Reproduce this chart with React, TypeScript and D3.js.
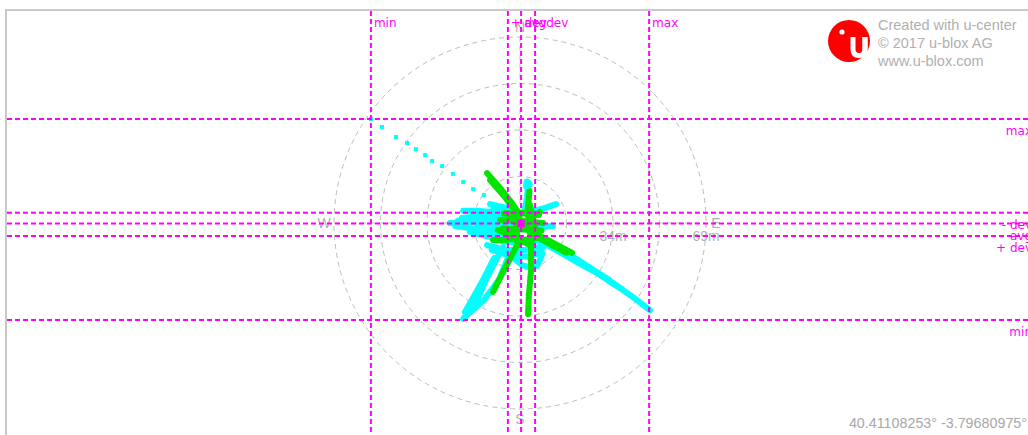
import React from "react";
import * as d3 from "d3";

type P = [number, number];

// ring radii in metres and their labels
const ringValues = [17.25, 34.5, 51.75, 69];
const ringLabels = ["", "34m", "", "69m"];
const cardinalLabels = ["N", "E", "S", "W"];
const cardinalAngles = [0, 90, 180, 270];

// statistic lines (east offset, metres)
const eastLineLabels = ["min", "+ dev", "avg", "- dev", "max"];
const eastLineValues = [-55.3, -4.5, 0.4, 5.6, 47.9];
// statistic lines (north offset, metres)
const northLineLabels = ["max", "- dev", "avg", "+ dev", "min"];
const northLineValues = [38.6, 3.8, -0.2, -4.8, -36.0];

const avgPoint: P = [0.4, -0.2];

// isolated cyan fixes (east, north in metres)
const cyanDots: P[] = [
  [-55.3, 38.6], [-51.2, 35.6], [-46.0, 31.9], [-41.9, 29.7], [-38.6, 27.4],
  [-35.2, 25.2], [-32.6, 23.0], [-28.9, 21.1], [-24.9, 18.2], [-21.1, 15.2],
  [-17.4, 12.6], [-13.4, 10.4],
];

// dense cyan tracks
const cyanTracks: P[][] = [
  [[1.5, -1.5], [14.8, -9.6], [29.7, -18.9], [40.8, -26.7], [48.2, -32.3]],
  [[5.6, -4.8], [20.4, -13.0], [34.1, -22.3], [37.8, -24.5]],
  [[8.0, -7.0], [22.0, -15.0], [33.0, -21.0]],
  [[-21.1, -35.6], [-15.9, -28.6], [-12.6, -21.1], [-8.9, -13.7], [-6.3, -8.9]],
  [[-20.4, -33.0], [-14.1, -21.9], [-9.6, -13.0]],
  [[-20.0, -34.5], [-13.4, -28.6], [-7.8, -21.1], [-4.8, -13.7], [-3.0, -10.0]],
  [[-26.0, 0.0], [-18.6, 0.4], [-9.3, -0.4], [-1.9, -0.4]],
  [[-24.1, -1.1], [-16.7, -2.2], [-9.3, -3.7], [-3.0, -3.3]],
  [[-23.0, 0.8], [-16.0, 1.5], [-8.0, 1.2], [-1.0, 1.0]],
  [[-21.5, 1.9], [-14.8, 2.6], [-7.4, 2.6], [-0.7, 3.0]],
  [[-18.6, -3.3], [-11.1, -5.2], [-5.6, -4.8]],
  [[-16.0, -1.5], [-10.0, -2.5], [-4.0, -2.0]],
  [[-21.1, 4.5], [-14.8, 4.5], [-10.4, 4.1]],
  [[-11.1, 7.0], [-4.8, 5.6], [0.0, 3.3]],
  [[-10.0, 5.0], [-4.0, 4.0], [0.0, 1.5]],
  [[3.0, 14.5], [2.6, 9.3], [1.5, 4.1]],
  [[3.7, 4.1], [9.3, 5.6], [13.4, 7.0]],
  [[1.1, -1.5], [7.4, -1.5], [12.2, -1.1]],
  [[-12.2, -8.2], [-5.6, -10.0], [1.9, -10.0], [9.3, -8.5]],
  [[-9.3, -6.3], [-1.9, -7.4], [5.6, -6.7]],
  [[-10.5, -10.0], [-4.0, -12.0], [3.0, -12.5], [8.0, -11.0]],
  [[-3.7, -11.9], [0.7, -15.6], [4.8, -16.7]],
  [[-1.9, -5.6], [0.0, -13.0]],
  [[7.4, -5.6], [8.2, -11.9], [6.3, -15.9]],
];

// dense green tracks
const greenTracks: P[][] = [
  [[-12.2, 18.5], [-7.4, 13.0], [-3.0, 7.4], [0.0, 3.0]],
  [[-11.1, 15.9], [-5.6, 9.6], [-1.9, 4.8]],
  [[3.5, 12.0], [3.3, 9.3], [2.6, 3.0]],
  [[-5.6, 3.7], [0.0, 0.4], [7.4, -4.8]],
  [[-4.5, -4.8], [0.7, -0.4], [7.4, 4.1]],
  [[-7.4, 1.1], [0.0, 0.7], [8.5, 0.0]],
  [[-6.0, 3.5], [2.0, 3.8], [7.0, 3.0]],
  [[-6.5, -2.0], [1.0, -2.4], [8.0, -2.8]],
  [[-3.5, -6.0], [2.0, -6.2], [6.5, -5.5]],
  [[-2.6, 5.9], [-1.5, -0.7], [-0.7, -8.2]],
  [[-8.2, -2.6], [-3.0, -4.8], [3.7, -8.2]],
  [[-10.0, -6.3], [-4.8, -6.3]],
  [[3.7, 6.7], [5.6, -1.9], [4.8, -6.3]],
  [[1.9, -1.9], [11.1, -6.7], [19.3, -11.1]],
  [[3.7, -3.7], [13.0, -8.9], [17.1, -11.1]],
  [[4.1, -8.2], [4.1, -17.4], [3.3, -26.7], [3.0, -33.8]],
  [[-1.1, -8.2], [-4.5, -14.8], [-7.8, -21.1], [-10.0, -25.6]],
];

// cyan fixes drawn on top of the green cluster (top spike head)
const cyanTopDots: P[] = [[2.6, 15.2], [3.4, 14.4], [2.4, 13.8], [3.0, 14.8]];

const logoLines = ["Created with u-center", "\u00a9 2017 u-blox AG", "www.u-blox.com"];
const coordText = "40.41108253\u00b0 -3.79680975\u00b0";

const W = 1028;
const H = 435;
const MAG = "#ff00ff";
const CYAN = "#00ffff";
const GREEN = "#00e400";
const GRID = "#bcbcbc";
const TXT = "#b0b0b0";

export default function App() {
  const x = d3.scaleLinear().domain([-69, 69]).range([334, 706]);
  const y = d3.scaleLinear().domain([-69, 69]).range([409, 37]);
  const line = d3
    .line<P>()
    .x((d) => x(d[0]))
    .y((d) => y(d[1]));
  const cx = x(0);
  const cy = y(0);
  const labelR = 196;

  return (
    <div style={{ position: "fixed", left: 0, top: 0, width: W, height: H, background: "#fff" }}>
      <svg width={W} height={H} style={{ display: "block" }}>
        <rect x={0} y={0} width={W} height={H} fill="#fff" />
        {/* frame */}
        <path d={`M6,${H} V10 H${W}`} fill="none" stroke="#c8c8c8" strokeWidth={2} />

        {/* rings */}
        {ringValues.map((v, i) => (
          <circle key={"r" + i} cx={cx} cy={cy} r={x(v) - cx} fill="none" stroke={GRID} strokeWidth={1} strokeDasharray="5,4" />
        ))}
        <line x1={x(-69)} x2={x(69)} y1={cy} y2={cy} stroke={GRID} strokeDasharray="5,4" />
        <line x1={cx} x2={cx} y1={y(69)} y2={y(-69)} stroke={GRID} strokeDasharray="5,4" />
        {ringLabels.map((t, i) =>
          t ? (
            <text key={"rl" + i} x={x(ringValues[i])} y={241} textAnchor="middle" fontFamily="Liberation Sans, Arial, sans-serif" fontSize={14} fill={TXT}>
              {t}
            </text>
          ) : null
        )}
        {cardinalLabels.map((t, i) => {
          const a = (cardinalAngles[i] * Math.PI) / 180;
          return (
            <text key={"c" + t} x={cx + labelR * Math.sin(a)} y={cy - labelR * Math.cos(a)} textAnchor="middle" dominantBaseline="central" fontFamily="Liberation Sans, Arial, sans-serif" fontSize={14} fill={TXT}>
              {t}
            </text>
          );
        })}

        {/* cyan fixes */}
        {cyanTracks.map((t, i) => (
          <path key={"ct" + i} d={line(t) || ""} fill="none" stroke={CYAN} strokeWidth={6} strokeLinecap="round" strokeLinejoin="round" />
        ))}
        {cyanDots.map((d, i) => (
          <rect key={"cd" + i} x={x(d[0]) - 2} y={y(d[1]) - 2} width={4} height={4} fill={CYAN} />
        ))}
        {/* green fixes */}
        {greenTracks.map((t, i) => (
          <path key={"gt" + i} d={line(t) || ""} fill="none" stroke={GREEN} strokeWidth={6} strokeLinecap="round" strokeLinejoin="round" />
        ))}
        {cyanTopDots.map((d, i) => (
          <circle key={"ctd" + i} cx={x(d[0])} cy={y(d[1])} r={3.5} fill={CYAN} />
        ))}

        {/* statistic lines */}
        {eastLineValues.map((v, i) => (
          <g key={"el" + i}>
            <line x1={x(v)} x2={x(v)} y1={11} y2={H} stroke={MAG} strokeWidth={2} strokeDasharray="5,3" />
            <text x={x(v) + 3} y={27} fontFamily="DejaVu Sans, sans-serif" fontSize={12} fill={MAG}>
              {eastLineLabels[i]}
            </text>
          </g>
        ))}
        {northLineValues.map((v, i) => (
          <g key={"nl" + i}>
            <line x1={7} x2={W} y1={y(v)} y2={y(v)} stroke={MAG} strokeWidth={2} strokeDasharray="5,3" />
            <text x={1032} y={y(v) + 16} textAnchor="end" fontFamily="DejaVu Sans, sans-serif" fontSize={12} fill={MAG}>
              {northLineLabels[i]}
            </text>
          </g>
        ))}
        <rect x={x(avgPoint[0]) - 3.5} y={y(avgPoint[1]) - 3.5} width={7} height={7} fill={MAG} />

        {/* logo */}
        <circle cx={849} cy={41} r={21} fill="#ff0000" />
        <circle cx={842} cy={32} r={2.6} fill="#fff" />
        <path d="M853,37 V49 Q853,55.5 859,55.5 Q865,55.5 865,49 V37" fill="none" stroke="#fff" strokeWidth={5} />
        <path d="M865,37 V57" fill="none" stroke="#fff" strokeWidth={5} />
        {logoLines.map((t, i) => (
          <text key={"lg" + i} x={878} y={30 + i * 18} fontFamily="Liberation Sans, Arial, sans-serif" fontSize={14.5} fill={TXT}>
            {t}
          </text>
        ))}
        <text x={1027} y={428} textAnchor="end" fontFamily="Liberation Sans, Arial, sans-serif" fontSize={14.3} fill="#a8a8a8">
          {coordText}
        </text>
      </svg>
    </div>
  );
}
